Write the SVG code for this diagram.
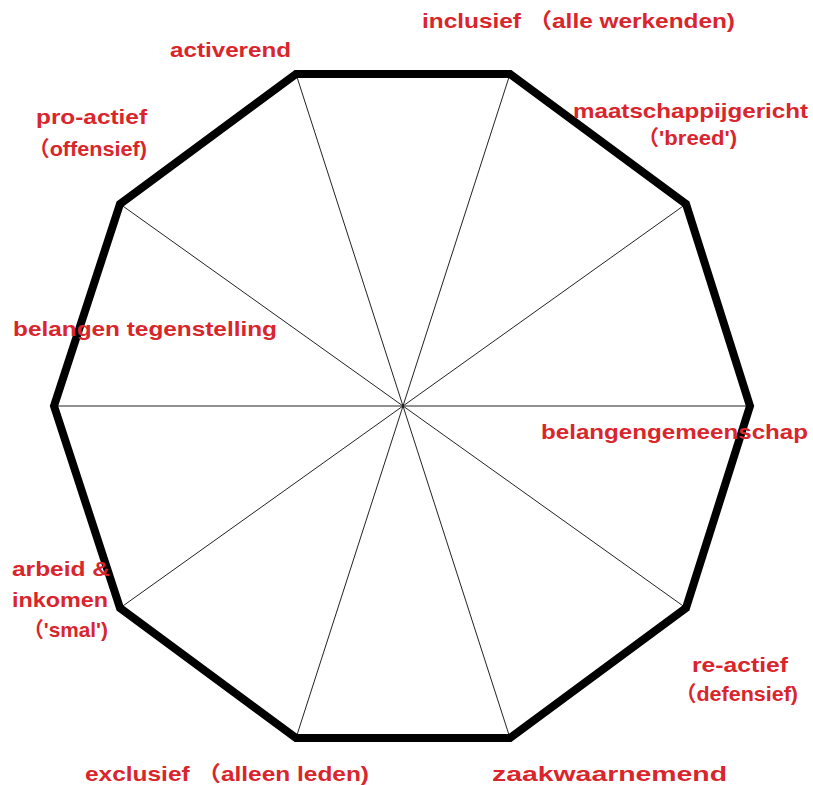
<svg xmlns="http://www.w3.org/2000/svg" width="813" height="785" viewBox="0 0 813 785">
<style>
.lbl{font-family:"Liberation Sans",Arial,"Noto Sans CJK SC",sans-serif;font-weight:bold;font-size:21px;fill:#d9252b}
.spoke{stroke:#222;stroke-width:1;fill:none}
.frame{stroke:#000;stroke-width:8;fill:none;stroke-linejoin:miter}
</style>
<rect width="813" height="785" fill="#fff"/>
<g id="connectors">
<line class="spoke" x1="296" y1="74" x2="510" y2="738"/>
<line class="spoke" x1="510" y1="74" x2="296" y2="738"/>
<line class="spoke" x1="686" y1="204" x2="120" y2="608"/>
<line class="spoke" x1="750" y1="406" x2="54" y2="406"/>
<line class="spoke" x1="686" y1="608" x2="120" y2="204"/>
</g>
<g id="decagon">
<polygon class="frame" points="296,74 510,74 686,204 750,406 686,608 510,738 296,738 120,608 54,406 120,204"/>
</g>
<g id="label-inclusief"><text class="lbl" x="422" y="28" textLength="313" lengthAdjust="spacingAndGlyphs">inclusief （alle werkenden)</text></g>
<g id="label-activerend"><text class="lbl" x="170" y="57" textLength="121" lengthAdjust="spacingAndGlyphs">activerend</text></g>
<g id="label-proactief">
<text class="lbl" x="36" y="124" textLength="111" lengthAdjust="spacingAndGlyphs">pro-actief</text>
<text class="lbl" x="28" y="156" textLength="119" lengthAdjust="spacingAndGlyphs">（offensief)</text>
</g>
<g id="label-maatschappij">
<text class="lbl" x="573" y="118" textLength="235" lengthAdjust="spacingAndGlyphs">maatschappijgericht</text>
<text class="lbl" x="637" y="145" textLength="100" lengthAdjust="spacingAndGlyphs">（'breed')</text>
</g>
<g id="label-tegenstelling"><text class="lbl" x="13" y="336" textLength="264" lengthAdjust="spacingAndGlyphs">belangen tegenstelling</text></g>
<g id="label-gemeenschap"><text class="lbl" x="541" y="439" textLength="267" lengthAdjust="spacingAndGlyphs">belangengemeenschap</text></g>
<g id="label-arbeid">
<text class="lbl" x="12" y="576" textLength="98" lengthAdjust="spacingAndGlyphs">arbeid &amp;</text>
<text class="lbl" x="12" y="607" textLength="96" lengthAdjust="spacingAndGlyphs">inkomen</text>
<text class="lbl" x="23" y="637" textLength="85" lengthAdjust="spacingAndGlyphs">（'smal')</text>
</g>
<g id="label-reactief">
<text class="lbl" x="692" y="672" textLength="96" lengthAdjust="spacingAndGlyphs">re-actief</text>
<text class="lbl" x="675" y="701" textLength="123" lengthAdjust="spacingAndGlyphs">（defensief)</text>
</g>
<g id="label-exclusief"><text class="lbl" x="85" y="781" textLength="284" lengthAdjust="spacingAndGlyphs">exclusief （alleen leden)</text></g>
<g id="label-zaakwaarnemend"><text class="lbl" x="492" y="781" textLength="235" lengthAdjust="spacingAndGlyphs">zaakwaarnemend</text></g>
</svg>
